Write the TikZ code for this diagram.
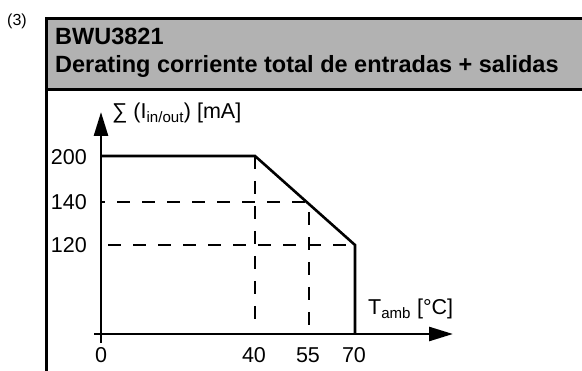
\documentclass[tikz,border=0pt]{standalone}
\usepackage{fontspec}
\setmainfont{Liberation Sans}
\usetikzlibrary{arrows.meta}

\begin{document}
\begin{tikzpicture}[x=1pt,y=-1pt,
axisline/.style={line width=2.6pt, -{Triangle[length=24pt,width=14pt]}},
curve/.style={line width=2.6pt, line join=miter},
guide/.style={line width=2.6pt, dash pattern=on 13pt off 12pt},
ticklabel/.style={font=\fontsize{21.5}{24}\selectfont, inner sep=0pt},
titletext/.style={font=\fontsize{23.5}{27}\selectfont\bfseries, inner sep=0pt, anchor=base west}
]
    \useasboundingbox (0,0) rectangle (582,371);

    % header
    \draw [line width=3pt, fill=black!30] (46,19) rectangle (600,90);
    \draw [line width=3pt] (46,19) -- (46,380);
    \node [font=\fontsize{16}{18}\selectfont, inner sep=0pt, anchor=base west] (fig) at (7,26) {(3)};
    \node [titletext] (model) at (55,45) {BWU3821};
    \node [titletext] (heading) at (55,73) {Derating corriente total de entradas + salidas};

    % points of the curve
    \coordinate (o) at (101,334);
    \coordinate (a200) at (101,156);
    \coordinate (a140) at (101,202);
    \coordinate (a120) at (101,245);
    \coordinate (k40) at (255,156);
    \coordinate (k55) at (309,202);
    \coordinate (k70) at (355,245);
    \coordinate (b40) at (255,330);
    \coordinate (b55) at (309,325);
    \coordinate (b70) at (355,334);

    % axes
    \draw [axisline] (101,343) -- (101,112);
    \draw [axisline] (94,334) -- (453,334);

    % dashed guides
    \draw [guide, dash phase=9pt] (a140) -- (k55);
    \draw [guide, dash phase=18pt] (a120) -- (k70);
    \draw [guide] (k40) -- (b40);
    \draw [guide, dash phase=15pt] (k55) -- (b55);

    % derating curve
    \draw [curve] (a200) -- (k40) -- (k70) -- (b70);

    \node [ticklabel, anchor=east] (l200) at (87,157) {200};
    \node [ticklabel, anchor=east] (l140) at (87,202) {140};
    \node [ticklabel, anchor=east] (l120) at (87,245) {120};
    \node [ticklabel, anchor=base] (t0) at (101,363) {0};
    \node [ticklabel, anchor=base] (t40) at (254,363) {40};
    \node [ticklabel, anchor=base] (t55) at (308,363) {55};
    \node [ticklabel, anchor=base] (t70) at (354,363) {70};

    \node [ticklabel, anchor=base west] (ylab) at (112,119) {∑ (I\textsubscript{in/out}) [mA]};
    \node [ticklabel, anchor=base west] (xlab) at (368,315) {T\textsubscript{amb} [°C]};
\end{tikzpicture}
\end{document}
